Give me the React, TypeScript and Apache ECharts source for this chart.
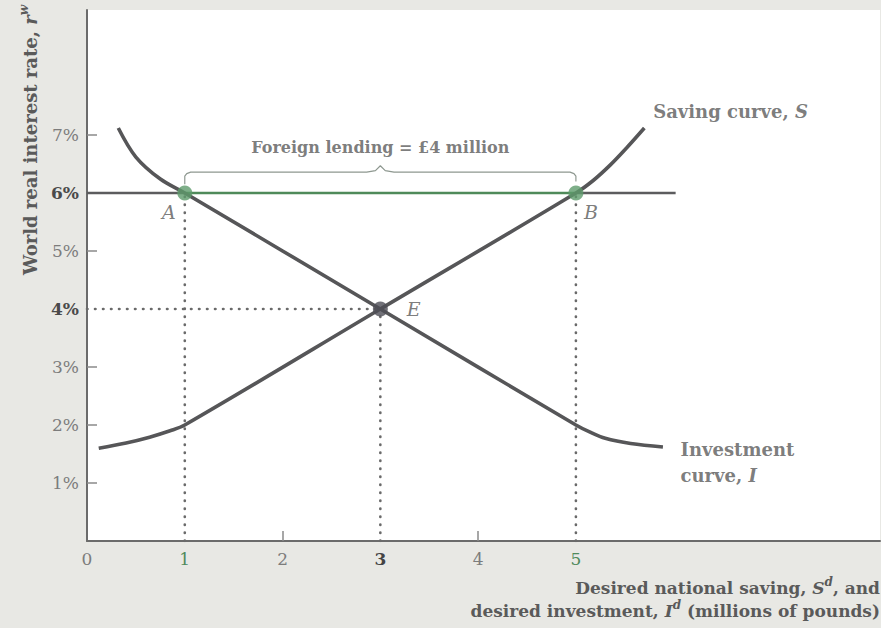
import React, { useEffect, useRef } from "react";
import * as echarts from "echarts";

// ---- data (values in chart units: x = millions of pounds, y = percent) ----
const investmentCurve: [number, number][] = [
  [0.32, 7.12], [0.5, 6.62], [0.75, 6.24], [1, 6], [3, 4], [5, 2],
  [5.14, 1.88], [5.3, 1.77], [5.56, 1.68], [5.89, 1.62],
];
const savingCurve: [number, number][] = [
  [0.12, 1.6], [0.4, 1.69], [0.64, 1.79], [0.85, 1.9], [1, 2], [3, 4], [5, 6],
  [5.18, 6.22], [5.35, 6.48], [5.52, 6.78], [5.7, 7.12],
];
const worldRateLeft: [number, number][] = [[0, 6], [1, 6]];
const foreignLending: [number, number][] = [[1, 6], [5, 6]];
const worldRateRight: [number, number][] = [[5, 6], [6.02, 6]];
const dottedA: [number, number][] = [[1, 0], [1, 6]];
const dottedE: [number, number][] = [[3, 0], [3, 4]];
const dottedB: [number, number][] = [[5, 0], [5, 6]];
const dottedE_h: [number, number][] = [[0, 4], [3, 4]];
const brace: [number, number][] = [
  [1, 6.15], [1, 6.29], [1.02, 6.335], [1.06, 6.36], [2.86, 6.36], [2.95, 6.385], [3, 6.47],
  [3.05, 6.385], [3.14, 6.36], [4.94, 6.36], [4.98, 6.335], [5, 6.29], [5, 6.2],
];
const pointsGreen = [
  { name: "A", value: [1, 6] },
  { name: "B", value: [5, 6] },
];
const pointE = [{ name: "E", value: [3, 4] }];
const xTickLabels = [0, 1, 2, 3, 4, 5];
const xTicks = [2, 4];
const yTickLabels = [1, 2, 3, 4, 5, 6, 7];
const yTicks = [1, 2, 3, 5, 7];

const SERIF = "'DejaVu Serif', 'Liberation Serif', serif";
const DARK = "#565658";
const TEXT = "#5a5a5a";
const GREEN = "#5e9b6b";

function richFor(fs: number, lh: number) {
  return {
    a: { fontFamily: SERIF, fontWeight: "bold", fontSize: fs, fill: TEXT, color: TEXT, lineHeight: lh },
    i: { fontFamily: SERIF, fontWeight: "bold", fontStyle: "italic", fontSize: fs, fill: TEXT, color: TEXT, lineHeight: lh },
    s: { fontFamily: SERIF, fontWeight: "bold", fontStyle: "italic", fontSize: 12, fill: TEXT, color: TEXT, verticalAlign: "top", lineHeight: 14 },
  };
}

export default function App() {
  const ref = useRef<HTMLDivElement>(null);
  useEffect(() => {
    document.body.style.margin = "0";
    const chart = echarts.init(ref.current!, null, { renderer: "svg" });
    const dotted = {
      type: [0.5, 7.5] as any,
      width: 2.6,
      cap: "round" as any,
      color: "#6a6a6a",
    };
    chart.setOption({
      animation: false,
      backgroundColor: "#e8e8e4",
      grid: {
        left: 87, top: 10, right: 1, bottom: 87,
        show: true, backgroundColor: "#ffffff", borderWidth: 0,
      },
      xAxis: {
        type: "value", min: 0, max: 8.11, interval: 1,
        axisLine: { lineStyle: { color: "#6b6b6b", width: 2 } },
        axisTick: { show: true, inside: true, length: 10, customValues: xTicks, lineStyle: { color: "#8a8a8a", width: 1.5 } },
        splitLine: { show: false },
        axisLabel: {
          customValues: xTickLabels,
          margin: 9,
          formatter: (v: number) => {
            if (v > 5) return "";
            if (v === 1 || v === 5) return `{g|${v}}`;
            if (v === 3) return `{b|${v}}`;
            return `{n|${v}}`;
          },
          rich: {
            n: { fontFamily: SERIF, fontSize: 17, color: "#7c7c7c" },
            g: { fontFamily: SERIF, fontSize: 17, color: "#4f8a5c" },
            b: { fontFamily: SERIF, fontSize: 17, color: "#444", fontWeight: "bold" },
          },
        },
      },
      yAxis: {
        type: "value", min: 0, max: 9.155, interval: 1,
        axisLine: { show: true, lineStyle: { color: "#6b6b6b", width: 2 } },
        axisTick: { show: true, inside: true, length: 10, customValues: yTicks, lineStyle: { color: "#8a8a8a", width: 1.5 } },
        splitLine: { show: false },
        axisLabel: {
          customValues: yTickLabels,
          margin: 8,
          formatter: (v: number) => {
            if (v < 1 || v > 7) return "";
            if (v === 4 || v === 6) return `{b|${v}%}`;
            return `{n|${v}%}`;
          },
          rich: {
            n: { fontFamily: SERIF, fontSize: 17, color: "#7c7c7c" },
            b: { fontFamily: SERIF, fontSize: 17, color: "#4a4a4a", fontWeight: "bold" },
          },
        },
      },
      series: [
        { type: "line", data: dottedA, symbol: "none", lineStyle: dotted, z: 1 },
        { type: "line", data: dottedE, symbol: "none", lineStyle: dotted, z: 1 },
        { type: "line", data: dottedB, symbol: "none", lineStyle: dotted, z: 1 },
        { type: "line", data: dottedE_h, symbol: "none", lineStyle: dotted, z: 1 },
        { type: "line", data: worldRateLeft, symbol: "none", lineStyle: { color: "#5c5c5e", width: 2.5 }, z: 2 },
        { type: "line", data: worldRateRight, symbol: "none", lineStyle: { color: "#5c5c5e", width: 2.5 }, z: 2 },
        { type: "line", data: foreignLending, symbol: "none", lineStyle: { color: "#4f8a5a", width: 2.5 }, z: 2 },
        { type: "line", data: brace, symbol: "none", lineStyle: { color: "#8e9890", width: 1.2 }, z: 2 },
        { name: "Investment curve, I", type: "line", data: investmentCurve, smooth: 0.35, symbol: "none", lineStyle: { color: DARK, width: 3.6 }, z: 3 },
        { name: "Saving curve, S", type: "line", data: savingCurve, smooth: 0.35, symbol: "none", lineStyle: { color: DARK, width: 3.6 }, z: 3 },
        {
          type: "scatter", data: pointsGreen, symbolSize: 15, itemStyle: { color: GREEN }, z: 5,
          label: {
            show: true, formatter: "{b}", fontFamily: SERIF, fontStyle: "italic", fontSize: 19, color: TEXT,
            position: "inside",
          },
          labelLayout: (p: any) => ({
            x: p.rect.x + p.rect.width / 2 + (p.text === "A" ? -16 : 15),
            y: p.rect.y + p.rect.height / 2 + 19,
            align: "center", verticalAlign: "middle",
          }),
        },
        {
          type: "scatter", data: pointE, symbolSize: 15, itemStyle: { color: "#4e4e56" }, z: 5,
          label: {
            show: true, formatter: "{b}", fontFamily: SERIF, fontStyle: "italic", fontSize: 19, color: TEXT,
            position: "right", distance: 19,
          },
        },
        {
          type: "scatter", symbolSize: 0, silent: true, z: 6,
          data: [
            {
              value: [3, 6.78],
              label: {
                show: true, position: [0, 0], align: "center", verticalAlign: "middle",
                formatter: "Foreign lending = £4 million",
                fontFamily: SERIF, fontWeight: "bold", fontSize: 16, color: TEXT,
              },
            },
            {
              value: [5.79, 7.41],
              label: {
                show: true, position: [0, 0], align: "left", verticalAlign: "middle",
                formatter: "{a|Saving curve, }{i|S}",
                rich: richFor(18, 24),
              },
            },
            {
              value: [6.07, 1.345],
              label: {
                show: true, position: [0, 0], align: "left", verticalAlign: "middle",
                formatter: "{a|Investment}\n{a|curve, }{i|I}",
                rich: richFor(18, 26),
              },
            },
          ],
        },
      ],
      graphic: [
        {
          type: "text", x: 30, y: 140, rotation: Math.PI / 2,
          style: {
            text: "{a|World real interest rate, }{i|r}{s|w}",
            align: "center", verticalAlign: "middle",
            rich: richFor(18, 24),
          },
        },
        {
          type: "text", x: 880, y: 588,
          style: {
            text: "{a|Desired national saving, }{i|S}{s|d}{a|, and}",
            align: "right", verticalAlign: "middle",
            rich: richFor(17, 24),
          },
        },
        {
          type: "text", x: 880, y: 611,
          style: {
            text: "{a|desired investment, }{i|I}{s|d}{a| (millions of pounds)}",
            align: "right", verticalAlign: "middle",
            rich: richFor(17, 24),
          },
        },
      ],
    });
    return () => chart.dispose();
  }, []);
  return <div ref={ref} style={{ width: 881, height: 628 }} />;
}
